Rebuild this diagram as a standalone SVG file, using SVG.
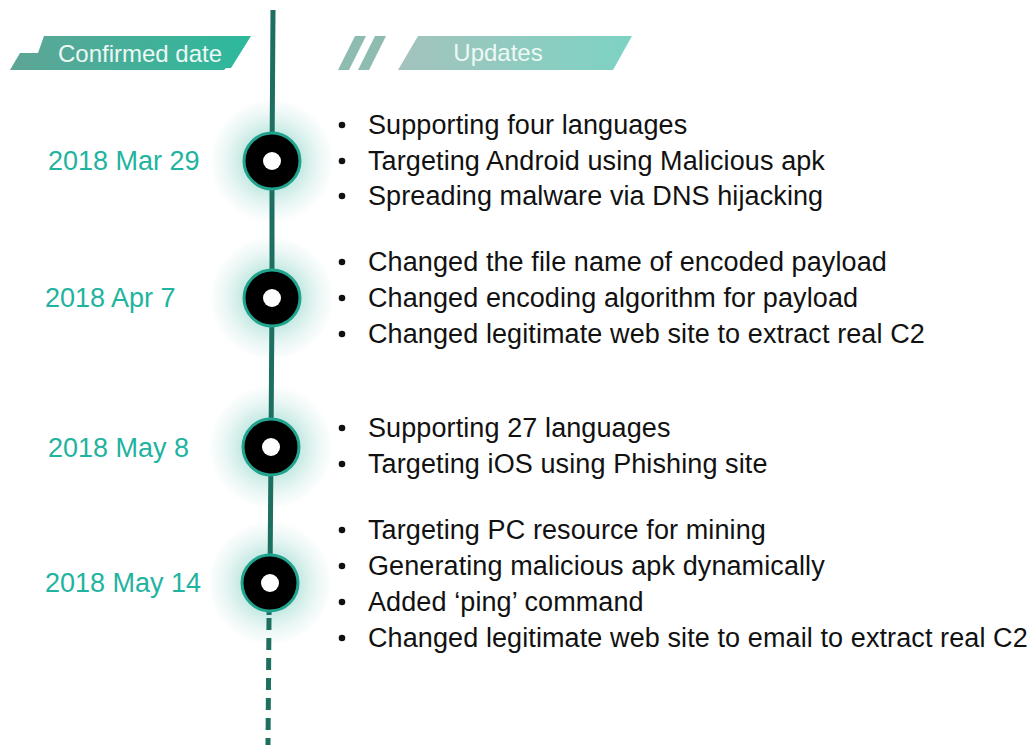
<svg xmlns="http://www.w3.org/2000/svg" width="1033" height="745" viewBox="0 0 1033 745">
<defs>
<linearGradient id="gConf" x1="0" y1="0" x2="1" y2="0">
<stop offset="0" stop-color="#5ea596"/>
<stop offset="1" stop-color="#2cb99c"/>
</linearGradient>
<linearGradient id="gUpd" x1="0" y1="0" x2="1" y2="0">
<stop offset="0" stop-color="#a3c3bd"/>
<stop offset="1" stop-color="#7dd3c3"/>
</linearGradient>
<radialGradient id="glow" cx="0.5" cy="0.5" r="0.5">
<stop offset="0.4" stop-color="#bde6df" stop-opacity="1"/>
<stop offset="0.7" stop-color="#e0f3f0" stop-opacity="0.8"/>
<stop offset="0.9" stop-color="#f3faf9" stop-opacity="0.6"/>
<stop offset="1" stop-color="#ffffff" stop-opacity="0"/>
</radialGradient>
</defs>
<style>
.date{font-family:"Liberation Sans",Arial,sans-serif;font-size:27px;fill:#1fb3a0;}
.item{font-family:"Liberation Sans",Arial,sans-serif;font-size:27px;fill:#111;letter-spacing:0.1px;}
.bul{fill:#111;}
.hdr{font-family:"Liberation Sans",Arial,sans-serif;font-size:24px;fill:#eef8f4;}
.ring{fill:#000;stroke:#21a48e;stroke-width:3;}
.hole{fill:#fff;}
.line{stroke:#1d6f60;stroke-width:5;fill:none;}
</style>
<rect width="1033" height="745" fill="#ffffff"/>

<g id="header-confirmed">
<polygon points="44,36 251,36 231,68 226,68 224,70 10,70 20,53 38,53" fill="url(#gConf)"/>
<text class="hdr" x="140" y="62" text-anchor="middle">Confirmed date</text>
</g>
<g id="header-updates">
<polygon points="355,36 366,36 349,70 338,70" fill="#8fbcb1"/>
<polygon points="375,36 386,36 369,70 358,70" fill="#8fbcb1"/>
<polygon points="418,36 632,36 613,70 398,70" fill="url(#gUpd)"/>
<text class="hdr" x="498" y="61" text-anchor="middle">Updates</text>
</g>

<g id="glows">
<circle cx="272" cy="161" r="64" fill="url(#glow)"/>
<circle cx="272" cy="298" r="64" fill="url(#glow)"/>
<circle cx="271" cy="447" r="64" fill="url(#glow)"/>
<circle cx="270" cy="583" r="64" fill="url(#glow)"/>
</g>

<g id="connectors">
<path class="line" d="M273,10 L272,161 L272,298 L271,447 L270,583 L269,615"/>
<path class="line" d="M269,618 L268,745" stroke-dasharray="12,8"/>
</g>

<g id="node1">
<circle class="ring" cx="272" cy="161" r="28"/>
<circle class="hole" cx="272" cy="161" r="9"/>
<text class="date" x="48" y="170">2018 Mar 29</text>
<circle class="bul" cx="342" cy="125" r="3.3"/>
<text class="item" x="368" y="134">Supporting four languages</text>
<circle class="bul" cx="342" cy="161" r="3.3"/>
<text class="item" x="368" y="170">Targeting Android using Malicious apk</text>
<circle class="bul" cx="342" cy="196" r="3.3"/>
<text class="item" x="368" y="205">Spreading malware via DNS hijacking</text>
</g>

<g id="node2">
<circle class="ring" cx="272" cy="298" r="28"/>
<circle class="hole" cx="272" cy="298" r="9"/>
<text class="date" x="45" y="307">2018 Apr 7</text>
<circle class="bul" cx="342" cy="262" r="3.3"/>
<text class="item" x="368" y="271">Changed the file name of encoded payload</text>
<circle class="bul" cx="342" cy="298" r="3.3"/>
<text class="item" x="368" y="307">Changed encoding algorithm for payload</text>
<circle class="bul" cx="342" cy="334" r="3.3"/>
<text class="item" x="368" y="343">Changed legitimate web site to extract  real C2</text>
</g>

<g id="node3">
<circle class="ring" cx="271" cy="447" r="28"/>
<circle class="hole" cx="271" cy="447" r="9"/>
<text class="date" x="48" y="457">2018 May 8</text>
<circle class="bul" cx="342" cy="428" r="3.3"/>
<text class="item" x="368" y="437">Supporting 27 languages</text>
<circle class="bul" cx="342" cy="464" r="3.3"/>
<text class="item" x="368" y="473">Targeting iOS using Phishing site</text>
</g>

<g id="node4">
<circle class="ring" cx="270" cy="583" r="28"/>
<circle class="hole" cx="270" cy="583" r="9"/>
<text class="date" x="45" y="592">2018 May 14</text>
<circle class="bul" cx="342" cy="530" r="3.3"/>
<text class="item" x="368" y="539">Targeting PC resource for mining</text>
<circle class="bul" cx="342" cy="566" r="3.3"/>
<text class="item" x="368" y="575">Generating malicious apk dynamically</text>
<circle class="bul" cx="342" cy="602" r="3.3"/>
<text class="item" x="368" y="611">Added ‘ping’ command</text>
<circle class="bul" cx="342" cy="638" r="3.3"/>
<text class="item" x="368" y="647">Changed legitimate web site to email to extract real C2</text>
</g>
</svg>
